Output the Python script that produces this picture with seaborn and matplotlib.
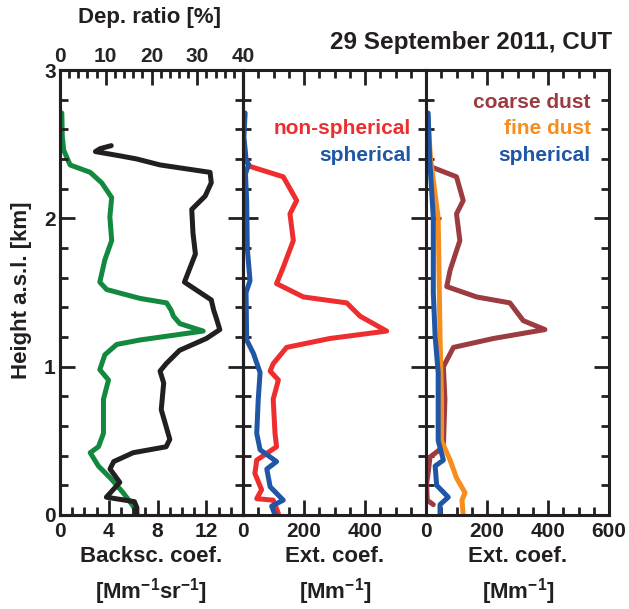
import numpy as np
import pandas as pd
import matplotlib
matplotlib.use("Agg")
import matplotlib.pyplot as plt
from matplotlib.ticker import MultipleLocator
import seaborn as sns

sns.set_style("ticks")
plt.rcParams['font.family'] = ['Liberation Sans', 'DejaVu Sans']
plt.rcParams['font.weight'] = 'bold'
plt.rcParams['mathtext.fontset'] = 'custom'
plt.rcParams['mathtext.bf'] = 'Liberation Sans:bold'
plt.rcParams['mathtext.rm'] = 'Liberation Sans:bold'
plt.rcParams['mathtext.default'] = 'bf'
plt.rcParams['lines.solid_joinstyle'] = 'round'
plt.rcParams['lines.solid_capstyle'] = 'round'

# ---------------- data ----------------
# Panel 1: backscatter coefficient (Mm-1 sr-1)
bsc_h = [2.49, 2.47, 2.45, 2.42, 2.40, 2.36, 2.31, 2.24, 2.15, 2.06, 1.90, 1.76, 1.57,
         1.45, 1.38, 1.33, 1.25, 1.19, 1.11, 1.02, 0.97, 0.89, 0.71, 0.51, 0.46, 0.42,
         0.36, 0.31, 0.22, 0.12, 0.09, 0.05, 0.01]
bsc_v = [4.2, 3.3, 2.9, 5.0, 6.3, 8.2, 12.3, 12.4, 11.9, 10.8, 10.9, 11.1, 10.2,
         12.4, 12.6, 12.8, 13.1, 12.0, 9.8, 8.7, 8.2, 8.5, 8.3, 9.0, 8.7, 6.0,
         4.4, 4.1, 4.9, 3.8, 6.1, 6.3, 6.3]
# Panel 1: particle depolarization ratio (%)
dep_h = [2.71, 2.55, 2.46, 2.36, 2.31, 2.24, 2.14, 2.01, 1.85, 1.72, 1.57, 1.52, 1.46,
         1.43, 1.38, 1.34, 1.29, 1.24, 1.18, 1.15, 1.08, 0.98, 0.91, 0.78, 0.55, 0.46,
         0.42, 0.33, 0.24, 0.15, 0.06, 0.01]
dep_v = [0.4, 0.5, 0.8, 2.2, 6.6, 9.1, 11.3, 10.9, 11.3, 9.8, 8.7, 10.2, 17.5,
         23.3, 24.3, 24.8, 26.2, 31.3, 17.5, 12.4, 9.8, 8.7, 10.6, 9.5, 9.5, 8.4,
         6.6, 8.4, 11.3, 13.8, 16.0, 16.8]
# Panel 2: extinction coefficient (Mm-1)
nsph_h = [2.40, 2.35, 2.28, 2.12, 2.03, 1.85, 1.67, 1.56, 1.47, 1.43, 1.34, 1.24, 1.19,
          1.13, 1.02, 0.97, 0.91, 0.78, 0.55, 0.46, 0.37, 0.28, 0.17, 0.11, 0.10, 0.01]
nsph_v = [5, 23, 132, 176, 154, 165, 132, 110, 198, 340, 384, 471, 285,
          143, 99, 89, 116, 99, 105, 110, 45, 39, 61, 45, 99, 116]
sph2_h = [2.71, 2.55, 2.40, 2.36, 2.30, 2.12, 1.80, 1.58, 1.50, 1.18, 1.09, 0.96, 0.78,
          0.55, 0.44, 0.36, 0.31, 0.19, 0.10, 0.06, 0.00]
sph2_v = [7, 3, 10, 18, 8, 12, 14, 23, 10, 12, 34, 56, 50,
          45, 56, 110, 78, 89, 132, 94, 105]
# Panel 3: extinction coefficient (Mm-1)
coarse_h = [2.40, 2.35, 2.28, 2.12, 2.03, 1.85, 1.65, 1.54, 1.47, 1.43, 1.31, 1.25, 1.19,
            1.13, 1.00, 0.78, 0.46, 0.39, 0.30, 0.21, 0.10, 0.07]
coarse_v = [5, 13, 100, 122, 100, 111, 79, 68, 166, 275, 319, 390, 221,
            90, 57, 62, 57, 13, 8, 2, 4, 24]
fine_h = [2.70, 2.40, 2.00, 1.60, 1.20, 0.78, 0.50, 0.37, 0.25, 0.15, 0.10, 0.00]
fine_v = [5, 15, 40, 43, 46, 51, 51, 79, 100, 128, 118, 122]
sph3_h = [2.71, 2.40, 2.00, 1.50, 1.20, 0.96, 0.50, 0.37, 0.33, 0.20, 0.12, 0.07, 0.00]
sph3_v = [7, 12, 24, 24, 30, 40, 40, 57, 30, 35, 73, 46, 46]

C_BLACK = '#231f20'
C_GREEN = '#12893f'
C_RED = '#ee2e2e'
C_BLUE = '#1f56a6'
C_BROWN = '#9c3b40'
C_ORANGE = '#f68e1f'

W, H = 629, 609
fig = plt.figure(figsize=(W / 100, H / 100), dpi=100)

x0 = 60
pw = 183
top, bot = 70, 515
FS = 15

def make_ax(i):
    l = (x0 + i * pw) / W
    return fig.add_axes([l, 1 - bot / H, pw / W, (bot - top) / H])

axes = [make_ax(i) for i in range(3)]
LW = 3.6

def style(ax):
    for s in ax.spines.values():
        s.set_linewidth(2.2)
        s.set_color(C_BLACK)
    ax.set_ylim(0, 3)
    ax.yaxis.set_major_locator(MultipleLocator(1))
    ax.yaxis.set_minor_locator(MultipleLocator(0.2))
    ax.tick_params(axis='both', which='major', direction='in', length=11, width=2,
                   labelsize=FS, color=C_BLACK, labelcolor=C_BLACK, pad=5)
    ax.tick_params(axis='both', which='minor', direction='in', length=6, width=2,
                   color=C_BLACK)
    ax.tick_params(axis='y', which='both', left=True, right=True)
    ax.tick_params(axis='x', which='both', bottom=True)
    ax.set_xlabel('')
    ax.set_ylabel('')

# Panel 1
ax = axes[0]
df_b = pd.DataFrame({'v': bsc_v, 'h': bsc_h})
sns.lineplot(data=df_b, x='v', y='h', sort=False, estimator=None, color=C_BLACK,
             lw=LW, ax=ax)
ax.set_xlim(0, 15)
style(ax)
ax.set_xticks([0, 4, 8, 12])
ax.xaxis.set_minor_locator(MultipleLocator(1))
ax.tick_params(axis='x', which='both', top=False)
ax.set_yticks([0, 1, 2, 3])
ax.set_yticklabels(['0', '1', '2', '3'])
ax.tick_params(axis='y', labelleft=True, pad=3)

axt = ax.twiny()
df_d = pd.DataFrame({'v': dep_v, 'h': dep_h})
sns.lineplot(data=df_d, x='v', y='h', sort=False, estimator=None, color=C_GREEN,
             lw=LW, ax=axt)
axt.set_xlim(0, 40)
axt.set_ylim(0, 3)
axt.set_xlabel('')
axt.set_ylabel('')
for s in axt.spines.values():
    s.set_linewidth(2.2)
    s.set_color(C_BLACK)
axt.xaxis.set_major_locator(MultipleLocator(10))
axt.xaxis.set_minor_locator(MultipleLocator(2))
axt.tick_params(axis='x', which='major', direction='in', length=11, width=2,
                labelsize=FS, color=C_BLACK, pad=3)
axt.tick_params(axis='x', which='minor', direction='in', length=6, width=2,
                color=C_BLACK)
axt.set_zorder(1)
ax.set_zorder(2)
ax.patch.set_visible(False)

# Panel 2
ax = axes[1]
sns.lineplot(data=pd.DataFrame({'v': nsph_v, 'h': nsph_h}), x='v', y='h', sort=False,
             estimator=None, color=C_RED, lw=LW, ax=ax)
sns.lineplot(data=pd.DataFrame({'v': sph2_v, 'h': sph2_h}), x='v', y='h', sort=False,
             estimator=None, color=C_BLUE, lw=LW, ax=ax)
ax.set_xlim(0, 600)
style(ax)
ax.set_xticks([0, 200, 400])
ax.xaxis.set_minor_locator(MultipleLocator(50))
ax.tick_params(axis='x', which='both', top=True)
ax.tick_params(axis='y', labelleft=False)
ax.text(0.92, 0.868, 'non-spherical', transform=ax.transAxes, ha='right', va='center',
        color=C_RED, fontsize=FS, fontweight='bold')
ax.text(0.92, 0.808, 'spherical', transform=ax.transAxes, ha='right', va='center',
        color=C_BLUE, fontsize=FS, fontweight='bold')

# Panel 3
ax = axes[2]
sns.lineplot(data=pd.DataFrame({'v': coarse_v, 'h': coarse_h}), x='v', y='h', sort=False,
             estimator=None, color=C_BROWN, lw=LW, ax=ax)
sns.lineplot(data=pd.DataFrame({'v': fine_v, 'h': fine_h}), x='v', y='h', sort=False,
             estimator=None, color=C_ORANGE, lw=LW, ax=ax)
sns.lineplot(data=pd.DataFrame({'v': sph3_v, 'h': sph3_h}), x='v', y='h', sort=False,
             estimator=None, color=C_BLUE, lw=LW, ax=ax)
ax.set_xlim(0, 600)
style(ax)
ax.set_xticks([0, 200, 400, 600])
ax.xaxis.set_minor_locator(MultipleLocator(50))
ax.tick_params(axis='x', which='both', top=True)
ax.tick_params(axis='y', labelleft=False)
ax.text(0.90, 0.928, 'coarse dust', transform=ax.transAxes, ha='right', va='center',
        color=C_BROWN, fontsize=FS, fontweight='bold')
ax.text(0.90, 0.868, 'fine dust', transform=ax.transAxes, ha='right', va='center',
        color=C_ORANGE, fontsize=FS, fontweight='bold')
ax.text(0.90, 0.808, 'spherical', transform=ax.transAxes, ha='right', va='center',
        color=C_BLUE, fontsize=FS, fontweight='bold')

# Labels
def ftext(x, y, s, **kw):
    fig.text(x / W, 1 - y / H, s, fontsize=kw.pop('fontsize', 16), fontweight='bold',
             color=C_BLACK, **kw)

ftext(151, 556, 'Backsc. coef.', ha='center', va='center')
ftext(151, 592, r'[Mm$^{-1}$sr$^{-1}$]', ha='center', va='center')
ftext(335, 556, 'Ext. coef.', ha='center', va='center')
ftext(335, 592, r'[Mm$^{-1}$]', ha='center', va='center')
ftext(518, 556, 'Ext. coef.', ha='center', va='center')
ftext(518, 592, r'[Mm$^{-1}$]', ha='center', va='center')
ftext(150, 18, 'Dep. ratio [%]', ha='center', va='center')
ftext(612, 43, '29 September 2011, CUT', ha='right', va='center', fontsize=17.5)
ftext(22, 290, 'Height a.s.l. [km]', ha='center', va='center', rotation=90)

fig.savefig('out.png', dpi=100)
